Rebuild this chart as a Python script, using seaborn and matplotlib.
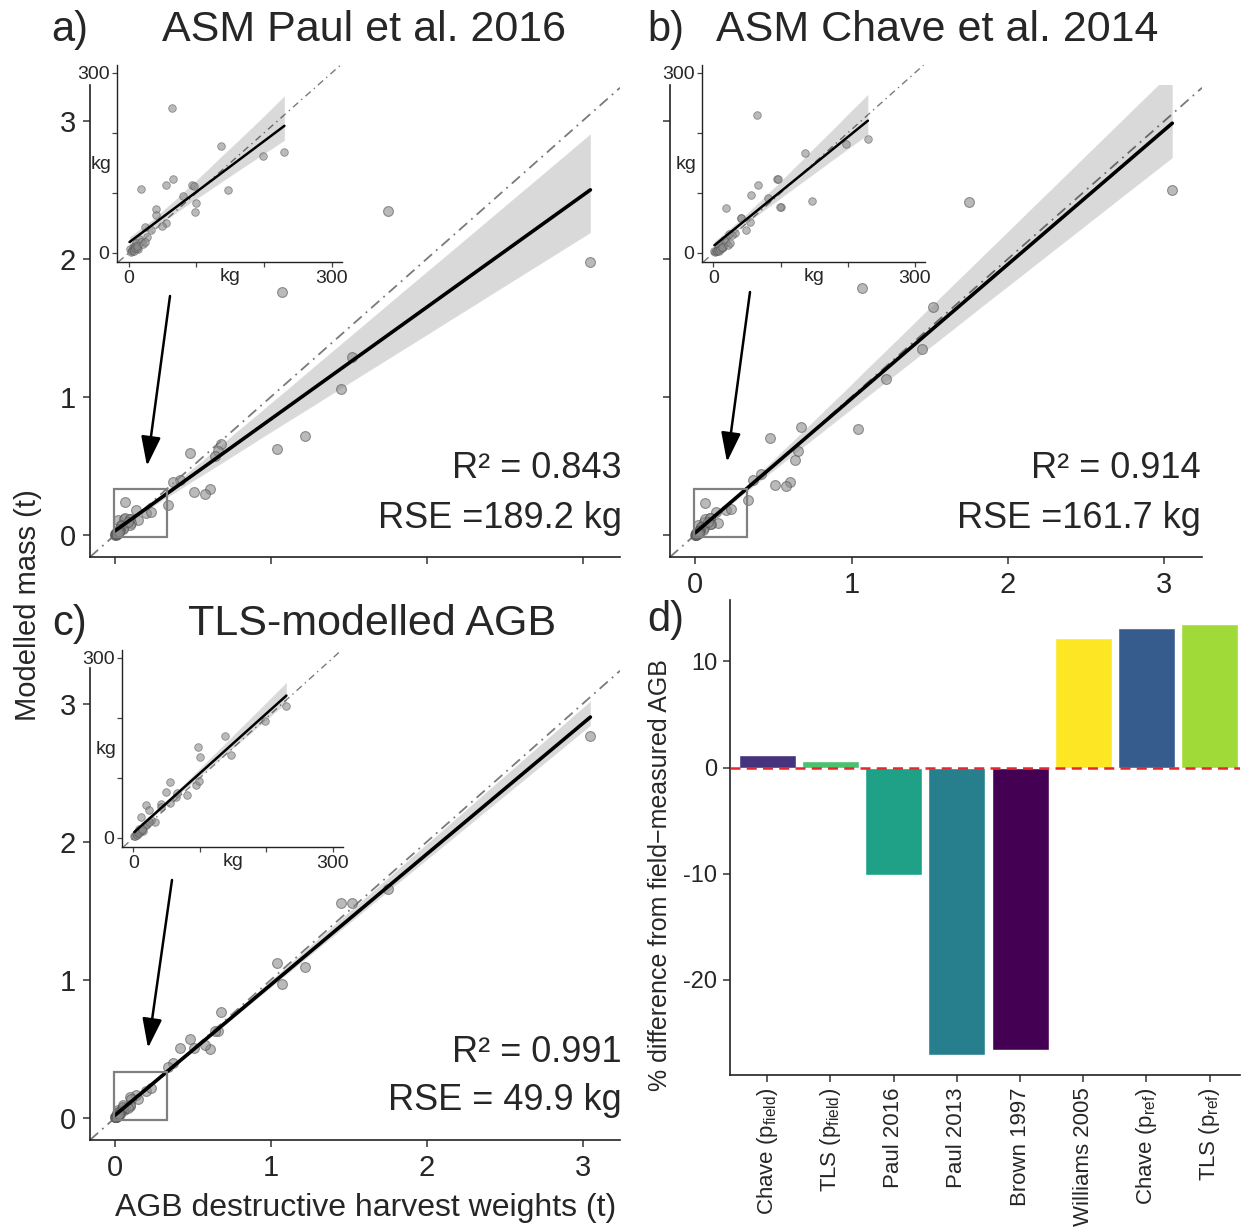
import numpy as np
import pandas as pd
import matplotlib
matplotlib.use("Agg")
import matplotlib.pyplot as plt
import seaborn as sns
from matplotlib.patches import Rectangle, FancyArrowPatch

# ---------------------------------------------------------------------------
# Per-tree masses (kg): destructive harvest weight and three model estimates
# ---------------------------------------------------------------------------
harvest_kg = [64.5, 137, 198, 230, 18.7, 55.7, 66, 94, 96.5, 147, 100, 98.5,
              41, 41, 54.7, 49, 32.5, 23.6, 27, 16, 11, 6.4, 1.5, 14, 9, 18.7, 81,
              3, 4.5, 5, 7.5, 8, 10, 12.5, 13, 21, 24,
              3050, 1750, 1520, 1450, 1220, 1070, 1040, 680, 660, 640, 610, 580,
              510, 480, 420, 370, 340]
paul_asm_kg = [241, 178, 162, 168, 107, 114, 123, 113, 112, 105, 84, 69,
               73, 64, 49.5, 45, 38, 43, 27, 23, 17, 10.5, 6, 6, 12, 19, 95,
               2, 5, 3, 6, 4, 8, 9, 12, 15, 18,
               1980, 2350, 1290, 1060, 720, 1760, 620, 660, 610, 570, 330, 300,
               310, 590, 400, 380, 220]
chave_asm_kg = [229, 167, 182, 190, 75, 96, 113, 124, 124, 87, 77, 77,
                58, 58, 52, 38, 33, 32, 30, 22, 15, 8, 3, 10, 12, 18, 92,
                2, 4, 3, 5, 4, 7, 8, 10, 14, 17,
                2500, 2410, 1650, 1350, 1130, 1790, 770, 780, 610, 540, 380, 355,
                360, 700, 440, 400, 250]
tls_kg = [69, 169, 194, 219, 55, 58, 75, 89, 151, 139, 135, 95,
          56, 51, 94, 76, 26, 46, 30, 20, 35, 10, 4, 12, 15, 22, 71.5,
          4, 6, 5, 9, 8, 12, 14, 15, 24, 27,
          2770, 1660, 1555, 1555, 1095, 970, 1120, 770, 630, 630, 500, 530,
          510, 570, 510, 400, 370]

panel_titles = ["ASM Paul et al. 2016", "ASM Chave et al. 2014", "TLS-modelled AGB"]
panel_tags = ["a)", "b)", "c)", "d)"]
r2_labels = ["R² = 0.843", "R² = 0.914", "R² = 0.991"]
rse_labels = ["RSE =189.2 kg", "RSE =161.7 kg", "RSE = 49.9 kg"]

# Percentage difference of plot-level AGB from field-measured AGB
method_labels = [r"Chave (p$_\mathrm{field}$)", r"TLS (p$_\mathrm{field}$)",
                 "Paul 2016", "Paul 2013", "Brown 1997", "Williams 2005",
                 r"Chave (p$_\mathrm{ref}$)", r"TLS (p$_\mathrm{ref}$)"]
pct_diff = [1.2, 0.6, -10.1, -27.1, -26.6, 12.2, 13.2, 13.5]
bar_colors = ["#46337e", "#4ac16d", "#1fa187", "#277f8e", "#440154",
              "#fde725", "#365c8d", "#a0da39"]

# ---------------------------------------------------------------------------
sns.set_style("ticks")
plt.rcParams["font.family"] = ["Liberation Sans", "DejaVu Sans"]
plt.rcParams["mathtext.fontset"] = "custom"
plt.rcParams["mathtext.rm"] = "Liberation Sans"
plt.rcParams["mathtext.it"] = "Liberation Sans:italic"
plt.rcParams["mathtext.bf"] = "Liberation Sans:bold"
plt.rcParams["axes.unicode_minus"] = False

W, H = 1249, 1227
fig = plt.figure(figsize=(W / 100, H / 100), dpi=100)


def box(l, t, r, b):
    return [l / W, 1 - b / H, (r - l) / W, (b - t) / H]


def fxy(x, y):
    return (x / W, 1 - y / H)


trees = pd.DataFrame({
    "harvest": harvest_kg,
    "paul": paul_asm_kg,
    "chave": chave_asm_kg,
    "tls": tls_kg,
})
trees_t = trees / 1000.0
small = trees[trees["harvest"] < 300]

one_to_one = dict(color="#7a7a7a", lw=1.3, ls=(0, (6, 3, 1, 3)), zorder=1)
spine_col = "#222222"


def style_axes(ax, lw=1.2):
    sns.despine(ax=ax)
    for s in ("left", "bottom"):
        ax.spines[s].set_color(spine_col)
        ax.spines[s].set_linewidth(lw)
    ax.set_xlabel("")
    ax.set_ylabel("")


def main_panel(rect, col, show_xlab, show_ylab):
    ax = fig.add_axes(rect)
    ax.axline((0, 0), (1, 1), **one_to_one)
    sns.scatterplot(data=trees_t, x="harvest", y=col, ax=ax, s=50,
                    color="#8c8c8c", alpha=0.6, edgecolor="#555555",
                    linewidth=0.8, zorder=2, legend=False)
    sns.regplot(data=trees_t, x="harvest", y=col, ax=ax, scatter=False,
                color="black", ci=68, line_kws=dict(lw=2.6, zorder=4), seed=7)
    ax.add_patch(Rectangle((-0.008, -0.015), 0.34, 0.345, fill=False,
                           ec="#808080", lw=1.6, zorder=5))
    ax.set_xlim(-0.16, 3.24)
    ax.set_ylim(-0.16, 3.26)
    ax.set_xticks([0, 1, 2, 3])
    ax.set_yticks([0, 1, 2, 3])
    if not show_xlab:
        ax.set_xticklabels([])
    if not show_ylab:
        ax.set_yticklabels([])
    ax.tick_params(labelsize=21, length=5, width=1.1, color="#333333",
                   pad=5)
    style_axes(ax)
    return ax


def inset_panel(rect, col):
    ax = fig.add_axes(rect)
    ax.set_facecolor("white")
    ax.axline((0, 0), (1, 1), color="#7a7a7a", lw=1.0,
              ls=(0, (5, 3, 1, 3)), zorder=1)
    sns.scatterplot(data=small, x="harvest", y=col, ax=ax, s=30,
                    color="#8c8c8c", alpha=0.6, edgecolor="#555555",
                    linewidth=0.6, zorder=2, legend=False)
    sns.regplot(data=small, x="harvest", y=col, ax=ax, scatter=False,
                color="black", ci=85, line_kws=dict(lw=1.8, zorder=4), seed=7)
    ax.set_xlim(-17, 315)
    ax.set_ylim(-15, 313)
    ax.set_xticks([0, 100, 200, 300], labels=["0", "", "", "300"])
    ax.set_yticks([0, 100, 200, 300], labels=["0", "", "", "300"])
    ax.set_xticks([150], labels=["kg"], minor=True)
    ax.set_yticks([150], labels=["kg"], minor=True)
    ax.tick_params(which="major", labelsize=14, length=3.5, width=0.9,
                   color="#444444", pad=2)
    ax.tick_params(which="minor", labelsize=14, length=0, pad=4)
    style_axes(ax, lw=1.0)
    return ax


ycols = ["paul", "chave", "tls"]
main_rects = [box(90, 85, 620, 557), box(670, 85, 1202, 557),
              box(90, 668, 620, 1140)]
inset_rects = [box(117, 65, 342, 262), box(702, 65, 925, 262),
               box(122, 650, 343, 847)]
label_flags = [(False, True), (True, False), (True, True)]

for i in range(3):
    main_panel(main_rects[i], ycols[i], *label_flags[i])
    inset_panel(inset_rects[i], ycols[i])

# Panel tags and titles
fig.text(*fxy(70, 30), panel_tags[0], fontsize=30, ha="center", va="center")
fig.text(*fxy(364, 30), panel_titles[0], fontsize=31, ha="center", va="center")
fig.text(*fxy(666, 30), panel_tags[1], fontsize=30, ha="center", va="center")
fig.text(*fxy(937, 30), panel_titles[1], fontsize=31, ha="center", va="center")
fig.text(*fxy(70, 624), panel_tags[2], fontsize=30, ha="center", va="center")
fig.text(*fxy(372, 624), panel_titles[2], fontsize=31, ha="center", va="center")
fig.text(*fxy(666, 620), panel_tags[3], fontsize=30, ha="center", va="center")

# Fit statistics
stat_pos = [(622, 468, 518), (1201, 468, 518), (622, 1053, 1101)]
for i, (xr, y1, y2) in enumerate(stat_pos):
    fig.text(*fxy(xr, y1), r2_labels[i], fontsize=26, ha="right", va="center")
    fig.text(*fxy(xr, y2), rse_labels[i], fontsize=26, ha="right", va="center")

# Arrows from each inset down to the zoomed region
for (x0, y0, x1, y1) in [(170, 296, 147, 466), (750, 292, 727, 462),
                         (172, 880, 148, 1048)]:
    fig.add_artist(FancyArrowPatch(fxy(x0, y0), fxy(x1, y1),
                                   transform=fig.transFigure,
                                   arrowstyle="-|>,head_length=0.9,head_width=0.3",
                                   mutation_scale=20, lw=1.8, color="black",
                                   shrinkA=0, shrinkB=0))

# Shared axis titles
fig.text(*fxy(28, 605), "Modelled mass (t)", fontsize=21, rotation=90,
         ha="center", va="center")
fig.text(*fxy(366, 1208), "AGB destructive harvest weights (t)", fontsize=23,
         ha="center", va="center")

# Panel d: percentage difference bars
axd = fig.add_axes(box(730, 600, 1240, 1075))
bars = pd.DataFrame({"method": method_labels, "pct": pct_diff})
sns.barplot(data=bars, x="method", y="pct", hue="method", palette=bar_colors,
            legend=False, width=0.9, saturation=1, ax=axd)
axd.axhline(0, color="#e8262a", ls=(0, (4, 2.5)), lw=1.8, zorder=5)
axd.set_xlim(-0.59, 7.48)
axd.set_ylim(-29.0, 15.8)
axd.set_yticks([-20, -10, 0, 10])
axd.tick_params(axis="x", labelrotation=90, labelsize=16, length=5,
                width=1.1, color="#333333", pad=4)
axd.tick_params(axis="y", labelsize=17, length=5, width=1.1,
                color="#333333", pad=4)
style_axes(axd, lw=1.2)
axd.set_ylabel("% difference from field\u2212measured AGB", fontsize=18)
axd.yaxis.set_label_coords(-0.114, 0.42)

fig.savefig("out.png", dpi=100)
